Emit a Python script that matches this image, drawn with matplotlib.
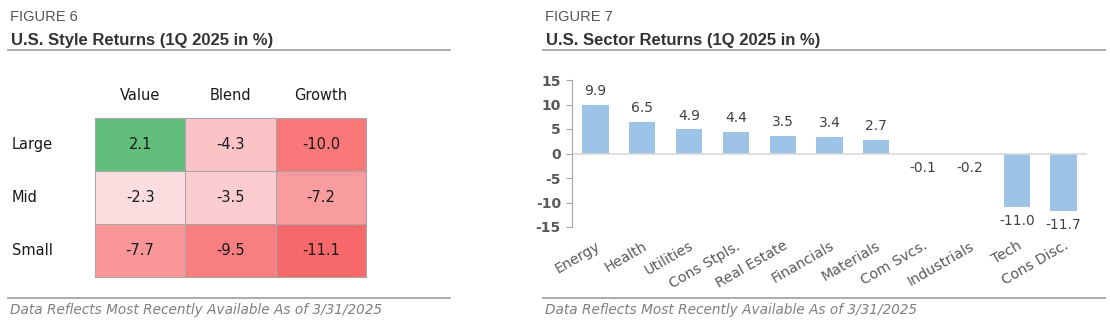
import numpy as np
import matplotlib.pyplot as plt
from matplotlib.colors import LinearSegmentedColormap, TwoSlopeNorm

# data
styles = ['Value', 'Blend', 'Growth']
sizes = ['Large', 'Mid', 'Small']
style_returns = [[2.1, -4.3, -10.0],
                 [-2.3, -3.5, -7.2],
                 [-7.7, -9.5, -11.1]]

sectors = ['Energy', 'Health', 'Utilities', 'Cons Stpls.', 'Real Estate', 'Financials',
           'Materials', 'Com Svcs.', 'Industrials', 'Tech', 'Cons Disc.']
sector_returns = [9.9, 6.5, 4.9, 4.4, 3.5, 3.4, 2.7, -0.1, -0.2, -11.0, -11.7]
y_ticks = [15, 10, 5, 0, -5, -10, -15]
footnote = 'Data Reflects Most Recently Available As of 3/31/2025'

gothic = 'DejaVu Sans'
W, H = 1110, 330
fig = plt.figure(figsize=(11.1, 3.3), dpi=100)

def fx(px):
    return px / W

def fy(py):
    return 1 - py / H

# headers, rules and footnotes
for x0, x1, num, title in [(8, 450, 'FIGURE 6', 'U.S. Style Returns (1Q 2025 in %)'),
                           (543, 1105, 'FIGURE 7', 'U.S. Sector Returns (1Q 2025 in %)')]:
    fig.text(fx(x0 + 2), fy(17), num, fontsize=10.5, color='#555555',
             family='Liberation Sans', va='center')
    fig.text(fx(x0 + 3), fy(41), title, fontsize=12, fontweight='bold', color='#333333',
             family='Liberation Sans', va='center')
    fig.add_artist(plt.Line2D([fx(x0), fx(x1)], [fy(50), fy(50)], color='#a6a6a6', lw=1.3))
    fig.add_artist(plt.Line2D([fx(x0), fx(x1)], [fy(298), fy(298)], color='#a6a6a6', lw=1.3))
    fig.text(fx(x0 + 2), fy(310), footnote, fontsize=9.8, style='italic', color='#7f7f7f',
             family=gothic, va='center')

# heatmap
cmap = LinearSegmentedColormap.from_list('excel', ['#F8696B', '#FCFCFF', '#63BE7B'])
norm = TwoSlopeNorm(vmin=-11.1, vcenter=0, vmax=2.1)
ax1 = fig.add_axes([fx(95), fy(277), fx(366 - 95), (277 - 118) / H])
vals = np.array(style_returns)
ax1.pcolormesh(vals, cmap=cmap, norm=norm, edgecolors='#a6a6a6', linewidth=0.7)
ax1.set_xlim(0, 3)
ax1.set_ylim(3, 0)
for i in range(len(sizes)):
    for j in range(len(styles)):
        ax1.text(j + 0.5, i + 0.5, f'{vals[i, j]:.1f}', ha='center', va='center',
                 fontsize=10.5, color='#1a1a1a', family=gothic)
for j, s in enumerate(styles):
    ax1.text(j + 0.5, -0.42, s, ha='center', va='center', fontsize=10.5, color='#1a1a1a',
             family=gothic)
for i, s in enumerate(sizes):
    ax1.text(-0.92, i + 0.5, s, ha='left', va='center', fontsize=10.5, color='#1a1a1a',
             family=gothic, transform=ax1.transData)
ax1.set_xticks([])
ax1.set_yticks([])
for sp in ax1.spines.values():
    sp.set_color('#a6a6a6')
    sp.set_linewidth(0.8)

# bar chart
ax2 = fig.add_axes([fx(572), fy(227), fx(1087 - 572), (227 - 80) / H])
x = np.arange(len(sectors))
ax2.bar(x, sector_returns, width=0.56, color='#9DC3E6')
ax2.set_xlim(-0.5, len(sectors) - 0.5)
ax2.set_ylim(-15, 15)
ax2.axhline(0, color='#d9d9d9', lw=1.2)
for xi, v in zip(x, sector_returns):
    if v >= 0:
        ax2.annotate(f'{v:.1f}', (xi, v), xytext=(0, 5), textcoords='offset points',
                     ha='center', va='bottom', fontsize=10, color='#404040', family=gothic)
    else:
        ax2.annotate(f'{v:.1f}', (xi, v), xytext=(0, -5), textcoords='offset points',
                     ha='center', va='top', fontsize=10, color='#404040', family=gothic)
ax2.set_yticks(y_ticks)
ax2.set_yticklabels([str(t) for t in y_ticks], fontsize=10, fontweight='bold',
                    color='#595959', family=gothic)
ax2.tick_params(axis='y', length=4, color='#a6a6a6', pad=4)
ax2.set_xticks(x)
ax2.set_xticklabels(sectors, rotation=30, ha='right', rotation_mode='anchor',
                    fontsize=10.3, color='#595959', family=gothic)
ax2.tick_params(axis='x', length=0, pad=0)
for lbl in ax2.get_xticklabels():
    lbl.set_y(-0.08)
for sp in ['top', 'right', 'bottom']:
    ax2.spines[sp].set_visible(False)
ax2.spines['left'].set_color('#a6a6a6')

fig.savefig('out.png', dpi=100)
